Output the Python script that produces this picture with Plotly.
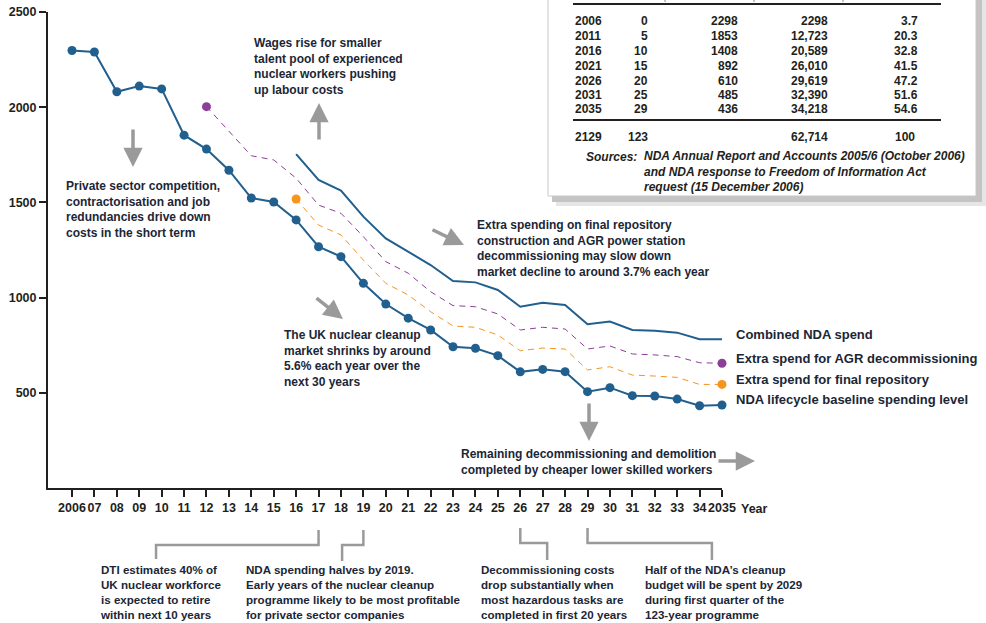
import plotly.graph_objects as go

# ---------------- data ----------------
years = list(range(2006, 2036))
tick_text = ["2006"] + [f"{y % 100:02d}" for y in range(2007, 2035)] + ["2035"]

baseline = [2298, 2290, 2081, 2111, 2096, 1853, 1780, 1669, 1523, 1502,
            1408, 1267, 1215, 1075, 966, 892, 830, 742, 734, 695,
            610, 623, 611, 506, 527, 485, 483, 467, 432, 436]

repo_years = list(range(2016, 2036))
repo = [1518, 1381, 1329, 1197, 1075, 1014, 926, 851, 844, 804,
        721, 735, 730, 620, 637, 593, 588, 581, 544, 544]

agr_years = list(range(2012, 2036))
agr = [2003, 1874, 1745, 1723, 1627, 1486, 1443, 1320, 1189, 1128,
       1031, 958, 952, 914, 830, 844, 835, 730, 746, 704, 699, 690, 658, 655]

comb_years = list(range(2016, 2036))
combined = [1754, 1618, 1562, 1425, 1311, 1241, 1171, 1087, 1080, 1040,
            952, 973, 961, 860, 874, 830, 826, 816, 781, 781]

y_ticks = [500, 1000, 1500, 2000, 2500]

# table
tbl_year = ["2006", "2011", "2016", "2021", "2026", "2031", "2035"]
tbl_elapsed = ["0", "5", "10", "15", "20", "25", "29"]
tbl_annual = ["2298", "1853", "1408", "892", "610", "485", "436"]
tbl_cum = ["2298", "12,723", "20,589", "26,010", "29,619", "32,390", "34,218"]
tbl_pct = ["3.7", "20.3", "32.8", "41.5", "47.2", "51.6", "54.6"]
tbl_total = ["2129", "123", "", "62,714", "100"]

# ---------------- style ----------------
BLUE = "#215f8e"
PURPLE = "#8b3f96"
ORANGE = "#f7941d"
TXT = "#1b2636"
AX = "#231f20"
GREY = "#9a9a9a"
FONT = "Liberation Sans, Arial, sans-serif"

L, R, T, B = 48, 264, 12, 135
W, H = 986, 623
PW, PH = W - L - R, H - T - B


def PX(px):
    return (px - L) / PW


def PY(py):
    return (H - B - py) / PH


fig = go.Figure()

fig.add_trace(go.Scatter(x=comb_years, y=combined, mode="lines",
                         line=dict(color=BLUE, width=2), cliponaxis=False,
                         name="Combined NDA spend"))
fig.add_trace(go.Scatter(x=agr_years, y=agr, mode="lines",
                         line=dict(color=PURPLE, width=1, dash="6px,5px"), cliponaxis=False,
                         name="Extra spend for AGR decommissioning"))
fig.add_trace(go.Scatter(x=[agr_years[0], agr_years[-1]], y=[agr[0], agr[-1]], mode="markers",
                         marker=dict(color=PURPLE, size=9), cliponaxis=False, showlegend=False))
fig.add_trace(go.Scatter(x=repo_years, y=repo, mode="lines",
                         line=dict(color=ORANGE, width=1, dash="6px,5px"), cliponaxis=False,
                         name="Extra spend for final repository"))
fig.add_trace(go.Scatter(x=[repo_years[0], repo_years[-1]], y=[repo[0], repo[-1]], mode="markers",
                         marker=dict(color=ORANGE, size=9), cliponaxis=False, showlegend=False))
fig.add_trace(go.Scatter(x=years, y=baseline, mode="lines+markers",
                         line=dict(color=BLUE, width=2),
                         marker=dict(color=BLUE, size=9), cliponaxis=False,
                         name="NDA lifecycle baseline spending level"))

ann = []


def text(px, py, s, size=12, anchor="left", italic=False, color=TXT, valign="middle"):
    if italic:
        s = "<i>" + s + "</i>"
    ann.append(dict(x=PX(px), y=PY(py), xref="paper", yref="paper", text="<b>" + s + "</b>",
                    showarrow=False, xanchor=anchor, yanchor=valign, align="left",
                    font=dict(family=FONT, size=size, color=color)))


def arrow(x0, y0, x1, y1):
    ann.append(dict(x=PX(x1), y=PY(y1), xref="paper", yref="paper", text="",
                    showarrow=True, ax=x0 - x1, ay=y0 - y1, axref="pixel", ayref="pixel",
                    arrowhead=2, arrowsize=1.1, arrowwidth=3.5, arrowcolor=GREY))


# direct labels at line ends
labels = [("Combined NDA spend", combined[-1]),
          ("Extra spend for AGR decommissioning", agr[-1]),
          ("Extra spend for final repository", repo[-1]),
          ("NDA lifecycle baseline spending level", baseline[-1])]
for lab, v in labels:
    ann.append(dict(x=2035, y=v, xref="x", yref="y", text="<b>" + lab + "</b>", showarrow=False,
                    xanchor="left", yanchor="middle", xshift=12, yshift=5,
                    font=dict(family=FONT, size=13, color=TXT)))

# comments in chart
text(252, 66, "Wages rise for smaller<br>talent pool of experienced<br>nuclear workers pushing<br>up labour costs")
arrow(319, 141, 319, 103)
text(64, 209, "Private sector competition,<br>contractorisation and job<br>redundancies drive down<br>costs in the short term")
arrow(133, 128, 133, 167)
text(475, 248, "Extra spending on final repository<br>construction and AGR power station<br>decommissioning may slow down<br>market decline to around 3.7% each year")
arrow(431, 229, 464, 245)
text(282, 358, "The UK nuclear cleanup<br>market shrinks by around<br>5.6% each year over the<br>next 30 years")
arrow(315, 297, 343, 319)
text(459, 462, "Remaining decommissioning and demolition<br>completed by cheaper lower skilled workers")
arrow(589, 402, 589, 441)
arrow(717, 461, 755, 461)

# bottom notes
note_size = 11.6
text(98, 592, "DTI estimates 40% of<br>UK nuclear workforce<br>is expected to retire<br>within next 10 years", size=note_size)
text(244, 592, "NDA spending halves by 2019.<br>Early years of the nuclear cleanup<br>programme likely to be most profitable<br>for private sector companies", size=note_size)
text(479, 592, "Decommissioning costs<br>drop substantially when<br>most hazardous tasks are<br>completed in first 20 years", size=note_size)
text(643, 592, "Half of the NDA\u2019s cleanup<br>budget will be spent by 2029<br>during first quarter of the<br>123-year programme", size=note_size)

# Year label
ann.append(dict(x=2035, y=PY(509), xref="x", yref="paper", text="<b>Year</b>", showarrow=False,
                xanchor="left", yanchor="middle", xshift=17,
                font=dict(family=FONT, size=12.5, color=AX)))

shapes = []
# bracket connectors below the axis (x in data coords)
brackets = [(2017, 2009.75, 530, 545, 559), (2019, 2018.05, 530, 545, 561),
            (2026, 2027.2, 528, 543, 560), (2029, 2034.55, 528, 543, 560)]
for xa, xb, y0, y1, y2 in brackets:
    path = f"M {xa},{PY(y0)} L {xa},{PY(y1)} L {xb},{PY(y1)} L {xb},{PY(y2)}"
    shapes.append(dict(type="path", xref="x", yref="paper", path=path,
                       line=dict(color=GREY, width=2.5)))

# table box with shadow
shapes.append(dict(type="rect", xref="paper", yref="paper", x0=PX(556), x1=PX(986), y0=PY(206), y1=PY(-5),
                   line=dict(width=0), fillcolor="#e6e6e6", layer="above"))
shapes.append(dict(type="rect", xref="paper", yref="paper", x0=PX(552), x1=PX(982), y0=PY(202), y1=PY(-5),
                   line=dict(width=0), fillcolor="#c4c4c4", layer="above"))
shapes.append(dict(type="rect", xref="paper", yref="paper", x0=PX(548), x1=PX(976), y0=PY(196), y1=PY(-5),
                   line=dict(color="#c8c8c8", width=1), fillcolor="white", layer="above"))
for yy in (4, 120):
    shapes.append(dict(type="line", xref="paper", yref="paper", x0=PX(573), x1=PX(941), y0=PY(yy), y1=PY(yy),
                       line=dict(color=AX, width=2), layer="above"))
# faint header column separators peeking at the top
for xx in (665, 754, 843):
    shapes.append(dict(type="line", xref="paper", yref="paper", x0=PX(xx), x1=PX(xx), y0=PY(0), y1=PY(2),
                       line=dict(color="#888", width=1), layer="above"))

row_y = [21, 36, 51, 66, 81, 95, 109]
cols = [(573, "left"), (650, "right"), (740, "right"), (830, "right"), (920, "right")]
for i, yy in enumerate(row_y):
    vals = [tbl_year[i], tbl_elapsed[i], tbl_annual[i], tbl_cum[i], tbl_pct[i]]
    for (cx, anc), v in zip(cols, vals):
        text(cx, yy, v, size=12, anchor=anc, color=AX)
tot_cols = [(573, "left"), (650, "right"), (740, "right"), (830, "right"), (917, "right")]
for (cx, anc), v in zip(tot_cols, tbl_total):
    if v:
        text(cx, 137, v, size=12, anchor=anc, color=AX)
text(584, 157, "Sources:", size=12, italic=True, color=AX)
text(642, 171, "NDA Annual Report and Accounts 2005/6 (October 2006)<br>and NDA response to Freedom of Information Act<br>request (15 December 2006)",
     size=12, italic=True, color=AX)

fig.update_layout(
    width=W, height=H, margin=dict(l=L, r=R, t=T, b=B, autoexpand=False),
    paper_bgcolor="white", plot_bgcolor="white", showlegend=False,
    font=dict(family=FONT, color=AX),
    annotations=ann, shapes=shapes,
    xaxis=dict(range=[2006 - 24 / (650 / 29), 2035], tickvals=years,
               ticktext=["<b>" + t + "</b>" for t in tick_text], tickangle=0, automargin=False,
               showline=True, linewidth=2, linecolor=AX, ticks="outside", ticklen=7,
               tickwidth=2, tickcolor=AX, showgrid=False, zeroline=False,
               tickfont=dict(family=FONT, size=12.5, color=AX)),
    yaxis=dict(range=[0, 2500], tickvals=y_ticks, ticktext=["<b>%d</b>" % v for v in y_ticks],
               showline=True, linewidth=2, linecolor=AX, ticks="outside", ticklen=7,
               tickwidth=2, tickcolor=AX, showgrid=False, zeroline=False, automargin=False,
               tickfont=dict(family=FONT, size=12.5, color=AX)),
)

fig.write_html("out.html", config={"displayModeBar": False},
               post_script="document.body.style.margin='0';document.body.style.padding='0';"
                           "document.body.style.overflow='hidden';")
